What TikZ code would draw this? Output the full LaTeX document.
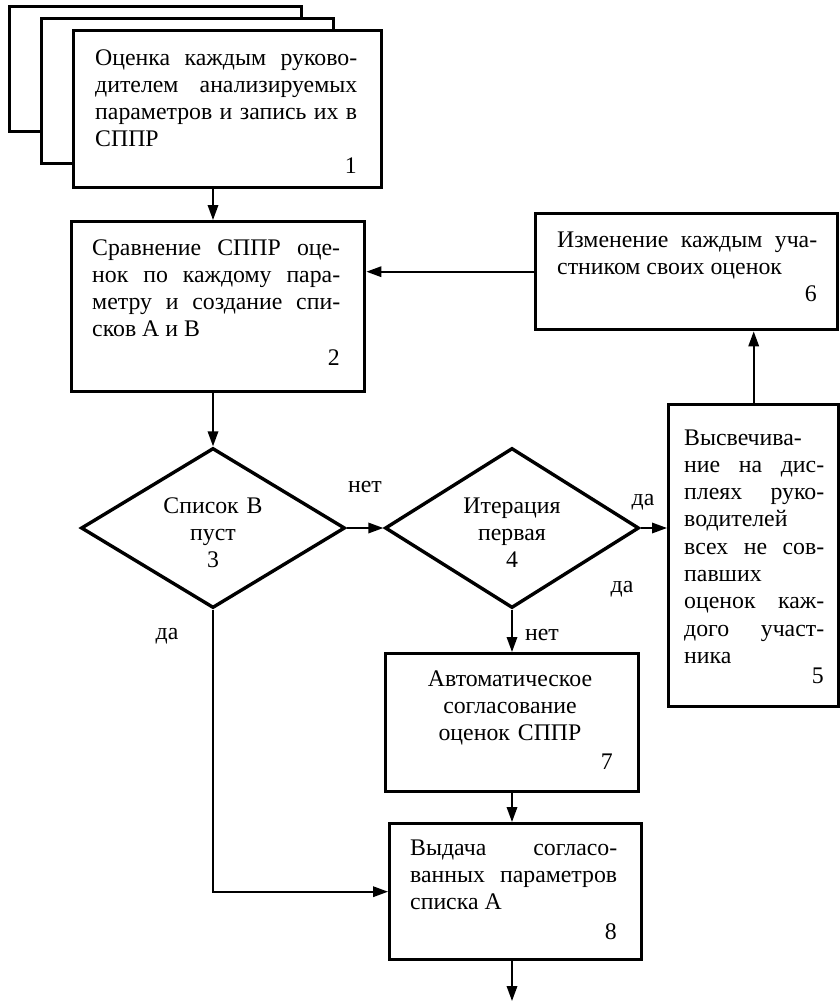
\documentclass[tikz,border=0pt]{standalone}
\usepackage{fontspec}
\setmainfont{Liberation Serif}
\usetikzlibrary{arrows.meta,shapes.geometric}
\hyphenpenalty=10000
\exhyphenpenalty=10000
\tolerance=10000

\begin{document}
\begin{tikzpicture}[x=1pt,y=-1pt,
  box/.style={draw,line width=3.4pt,fill=white,rectangle,inner sep=0pt,anchor=north west},
  dia/.style={draw,line width=3.4pt,diamond,inner sep=0pt},
  txt/.style={inner sep=0pt,align=justify,font=\fontsize{23.8}{27.3}\selectfont},
  ctxt/.style={txt,align=center},
  lbl/.style={inner sep=0pt,anchor=base,font=\fontsize{23.8}{27.3}\selectfont},
  arr/.style={line width=1.8pt,-{Triangle[length=15pt,width=10.5pt]}},
  ln/.style={line width=1.8pt}]
\useasboundingbox (0,0) rectangle (839,1001);

% stacked sheets of block 1
\node[box,minimum width=292pt,minimum height=125pt] (b1c) at (8,5) {};
\node[box,minimum width=292pt,minimum height=145pt] (b1b) at (40,17) {};
\node[box,minimum width=308pt,minimum height=157pt] (b1) at (72,29) {};
\node[txt,text width=262pt,anchor=base west] (t1) at (95,65)
  {Оценка каждым руково-\linebreak дителем анализируемых\linebreak параметров и запись их в\linebreak СППР};
\node[lbl,anchor=base east] (n1) at (357,173) {1};

% block 2
\node[box,minimum width=293pt,minimum height=170pt] (b2) at (70,220) {};
\node[txt,text width=248pt,anchor=base west] (t2) at (92,255)
  {Сравнение СППР оце-\linebreak нок по каждому пара-\linebreak метру и создание спи-\linebreak сков А и В};
\node[lbl,anchor=base east] (n2) at (340,365) {2};

% block 6
\node[box,minimum width=302pt,minimum height=116pt] (b6) at (534,212) {};
\node[txt,text width=260pt,anchor=base west] (t6) at (557,247)
  {Изменение каждым уча-\linebreak стником своих оценок};
\node[lbl,anchor=base east] (n6) at (817,301) {6};

% decision 3
\node[dia,minimum width=264pt,minimum height=160pt] (d3) at (213,528) {};
\node[ctxt,text width=200pt,anchor=base] (t3) at (213,513) {Список В\\пуст\\3};

% decision 4
\node[dia,minimum width=254pt,minimum height=160pt] (d4) at (512,528) {};
\node[ctxt,text width=200pt,anchor=base] (t4) at (512,513) {Итерация\\первая\\4};

% block 5
\node[box,minimum width=170pt,minimum height=302pt] (b5) at (667,403) {};
\node[txt,text width=140pt,anchor=base west] (t5) at (684,445)
  {Высвечива-\linebreak ние на дис-\linebreak плеях руко-\linebreak водителей\linebreak всех не сов-\linebreak павших\linebreak оценок каж-\linebreak дого участ-\linebreak ника};
\node[lbl,anchor=base east] (n5) at (824,683) {5};

% block 7
\node[box,minimum width=253pt,minimum height=138pt] (b7) at (384,652) {};
\node[ctxt,text width=240pt,anchor=base] (t7) at (510,686)
  {Автоматическое\\согласование\\оценок СППР};
\node[lbl,anchor=base east] (n7) at (613,769) {7};

% block 8
\node[box,minimum width=252pt,minimum height=136pt] (b8) at (388,822) {};
\node[txt,text width=207pt,anchor=base west] (t8) at (410,855)
  {Выдача согласо-\linebreak ванных параметров\linebreak списка А};
\node[lbl,anchor=base east] (n8) at (617,939) {8};

% branch labels
\node[lbl] (l34) at (365,492) {нет};
\node[lbl] (l45) at (643,505) {да};
\node[lbl] (l45b) at (622,592) {да};
\node[lbl] (l47) at (542,640) {нет};
\node[lbl] (l38) at (167,639) {да};

\coordinate (out) at (512,1001);

% connectors
\draw[arr] (b1.south -| d3.north) -- (b2.north -| d3.north);
\draw[arr] (b2.south -| d3.north) -- (d3.north);
\draw[arr] (b6.west) -- (b6.west -| b2.east);
\draw[arr] (d3.east) -- (d4.west);
\draw[arr] (d4.east) -- (d4.east -| b5.west);
\draw[arr] (b5.north) -- (b5.north |- b6.south);
\draw[arr] (d4.south) -- (d4.south |- b7.north);
\draw[arr] (b7.south -| d4.south) -- (b8.north -| d4.south);
\draw[arr] (d3.south) |- (b8.west);
\draw[arr] (b8.south -| out) -- (out);
\end{tikzpicture}
\end{document}
